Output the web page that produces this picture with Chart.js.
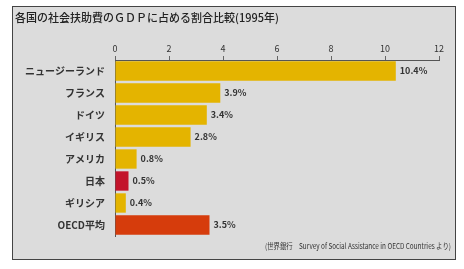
<!DOCTYPE html>
<html>
<head>
<meta charset="utf-8">
<script src="https://cdn.jsdelivr.net/npm/chart.js@4"></script>
<style>
  body { margin: 0; background: #fff; }
  #wrap { width: 464px; height: 269px; }
</style>
</head>
<body>
<div id="wrap"><canvas id="chart" width="464" height="269"></canvas></div>
<script>
const titleText = '各国の社会扶助費のＧＤＰに占める割合比較(1995年)';
const sourceText = '(世界銀行　Survey of Social Assistance in OECD Countries より)';
const countries = ['ニュージーランド', 'フランス', 'ドイツ', 'イギリス', 'アメリカ', '日本', 'ギリシア', 'OECD平均'];
const shares = [10.4, 3.9, 3.4, 2.8, 0.8, 0.5, 0.4, 3.5];
const barColors = ['#e4b400', '#e4b400', '#e4b400', '#e4b400', '#e4b400', '#c3142b', '#e4b400', '#d63c0c'];
const xTicks = [0, 2, 4, 6, 8, 10, 12];

const JP = '"Noto Sans CJK JP", "Noto Sans", sans-serif';

// frame, title and source note
const framePlugin = {
    id: 'frame',
    beforeDraw(chart) {
        const ctx = chart.ctx;
        ctx.save();
        ctx.fillStyle = '#dcdcdc';
        ctx.fillRect(12, 6, 444, 254);
        ctx.strokeStyle = '#444';
        ctx.lineWidth = 1;
        ctx.strokeRect(12.5, 6.5, 443, 253);
        ctx.fillStyle = '#222';
        ctx.font = '500 11px ' + JP;
        ctx.textBaseline = 'middle';
        ctx.fillText(titleText, 15, 18);
        ctx.font = '8px ' + JP;
        ctx.textAlign = 'right';
        ctx.fillStyle = '#333';
        ctx.fillText(sourceText, 451, 246, 186);
        ctx.restore();
    }
};

// value labels next to bars
const valuePlugin = {
    id: 'values',
    afterDatasetsDraw(chart) {
        const ctx = chart.ctx;
        const meta = chart.getDatasetMeta(0);
        ctx.save();
        ctx.fillStyle = '#333';
        ctx.font = 'bold 9px ' + JP;
        ctx.textBaseline = 'middle';
        meta.data.forEach((bar, i) => {
            ctx.fillText(shares[i].toFixed(1) + '%', bar.x + 4, bar.y);
        });
        ctx.restore();
    }
};

new Chart(document.getElementById('chart'), {
    type: 'bar',
    data: {
        labels: countries,
        datasets: [{
            data: shares,
            backgroundColor: barColors,
            barPercentage: 0.88,
            categoryPercentage: 1
        }]
    },
    options: {
        indexAxis: 'y',
        responsive: false,
        animation: false,
        layout: { padding: { left: 0, right: 25, top: 40, bottom: 33 } },
        plugins: { legend: { display: false }, tooltip: { enabled: false } },
        scales: {
            x: {
                position: 'top',
                min: 0,
                max: 12,
                afterBuildTicks: scale => { scale.ticks = xTicks.map(v => ({ value: v })); },
                afterFit: scale => { scale.height = 20; },
                grid: { drawOnChartArea: false, tickLength: 4, color: '#666' },
                border: { color: '#555' },
                ticks: { padding: 2, color: '#333', font: { family: JP, size: 9 } }
            },
            y: {
                afterFit: scale => { scale.width = 115; },
                grid: { display: false, drawTicks: false },
                border: { display: true, color: '#555' },
                ticks: { padding: 10, color: '#333', font: { family: JP, size: 10, weight: 'bold' } }
            }
        }
    },
    plugins: [framePlugin, valuePlugin]
});
</script>
</body>
</html>
